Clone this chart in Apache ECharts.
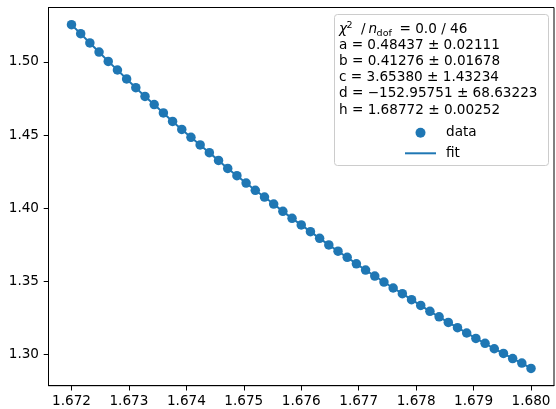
<!DOCTYPE html>
<html>
<head>
<meta charset="utf-8">
<script src="https://cdn.jsdelivr.net/npm/echarts@6/dist/echarts.min.js"></script>
<style>
html,body{margin:0;padding:0;background:#fff;}
#c{width:556px;height:409px;}
</style>
</head>
<body>
<div id="c"></div>
<script>
// ---- data ----
const xValues = [1.67200,1.67216,1.67232,1.67248,1.67264,1.67280,1.67296,1.67312,1.67328,1.67344,
1.67360,1.67376,1.67392,1.67408,1.67424,1.67440,1.67456,1.67472,1.67488,1.67504,
1.67520,1.67536,1.67552,1.67568,1.67584,1.67600,1.67616,1.67632,1.67648,1.67664,
1.67680,1.67696,1.67712,1.67728,1.67744,1.67760,1.67776,1.67792,1.67808,1.67824,
1.67840,1.67856,1.67872,1.67888,1.67904,1.67920,1.67936,1.67952,1.67968,1.67984,1.68000];
const yData = [1.5255,1.5194,1.5130,1.5068,1.5004,1.4945,1.4884,1.4824,1.4764,1.4708,
1.4651,1.4593,1.4538,1.4484,1.4432,1.4379,1.4326,1.4271,1.4221,1.4171,
1.4121,1.4075,1.4027,1.3977,1.3929,1.3884,1.3838,1.3792,1.3747,1.3704,
1.3662,1.3618,1.3575,1.3534,1.3493,1.3452,1.3413,1.3372,1.3333,1.3292,
1.3255,1.3216,1.3180,1.3144,1.3107,1.3073,1.3036,1.3004,1.2969,1.2938,1.2901];
const yFit = yData.slice();
const xTicks = [1.672,1.673,1.674,1.675,1.676,1.677,1.678,1.679,1.680];
const yTicks = [1.30,1.35,1.40,1.45,1.50];
const statLines = [
  'a = 0.48437 ± 0.02111',
  'b = 0.41276 ± 0.01678',
  'c = 3.65380 ± 1.43234',
  'd = −152.95751 ± 68.63223',
  'h = 1.68772 ± 0.00252'
];
const seriesNames = ['data','fit'];

// ---- chart ----
const C = '#1f77b4';
const FONT = 'DejaVu Sans';
const FS = 13.6;
const chart = echarts.init(document.getElementById('c'), null, {renderer:'canvas'});

const graphics = [
  {type:'rect', z:50, shape:{x:334.5, y:14.5, width:214, height:151, r:3},
   style:{fill:'rgba(255,255,255,0.8)', stroke:'#cccccc', lineWidth:1}},
  {type:'text', z:51, x:339, y:29.2, style:{text:'χ', font:'italic '+FS+'px '+FONT, fill:'#000', verticalAlign:'middle'}},
  {type:'text', z:51, x:346.5, y:25.8, style:{text:'2', font:'9.5px '+FONT, fill:'#000', verticalAlign:'middle'}},
  {type:'text', z:51, x:361.0, y:29.2, style:{text:'/', font:FS+'px '+FONT, fill:'#000', verticalAlign:'middle'}},
  {type:'text', z:51, x:368.5, y:29.2, style:{text:'n', font:'italic '+FS+'px '+FONT, fill:'#000', verticalAlign:'middle'}},
  {type:'text', z:51, x:376.6, y:33.4, style:{text:'dof', font:'9.5px '+FONT, fill:'#000', verticalAlign:'middle'}},
  {type:'text', z:51, x:399.5, y:29.2, style:{text:'= 0.0 / 46', font:FS+'px '+FONT, fill:'#000', verticalAlign:'middle'}}
];
statLines.forEach((t,k)=>{
  graphics.push({type:'text', z:51, x:339, y:45.2 + 16.25*k,
    style:{text:t, font:FS+'px '+FONT, fill:'#000', verticalAlign:'middle'}});
});

const option = {
  animation:false,
  backgroundColor:'#fff',
  grid:{left:48.5, right:2, top:7.5, bottom:23.3, show:true, borderColor:'#000', borderWidth:1,
        containLabel:false, outerBoundsMode:'none'},
  legend:{
    data:[{name:seriesNames[0], icon:'circle'},
          {name:seriesNames[1], itemStyle:{opacity:0, color:'rgba(0,0,0,0)', borderWidth:0}}],
    orient:'vertical', left:404, top:125.7, padding:0,
    itemWidth:31, itemHeight:10, itemGap:6.6, z:60,
    textStyle:{fontFamily:FONT, fontSize:FS, color:'#000', padding:[0,0,0,5]}
  },
  xAxis:{
    type:'value', min:1.6716, max:1.6804, scale:true,
    axisLine:{show:true, onZero:false, lineStyle:{color:'#000', width:1}},
    axisTick:{show:true, inside:false, length:4.8, lineStyle:{color:'#000', width:1}, customValues:xTicks},
    axisLabel:{show:true, margin:9, color:'#000', fontFamily:FONT, fontSize:FS, customValues:xTicks,
      formatter:v=>Number(v).toFixed(3)},
    splitLine:{show:false}
  },
  yAxis:{
    type:'value', min:1.2783, max:1.5373, scale:true,
    axisLine:{show:true, onZero:false, lineStyle:{color:'#000', width:1}},
    axisTick:{show:true, inside:false, length:4.8, lineStyle:{color:'#000', width:1}, customValues:yTicks},
    axisLabel:{show:true, margin:9.5, color:'#000', fontFamily:FONT, fontSize:FS, customValues:yTicks,
      formatter:v=>Number(v).toFixed(2)},
    splitLine:{show:false}
  },
  series:[
    {name:seriesNames[0], type:'scatter', symbol:'circle', symbolSize:9.5, z:3,
     itemStyle:{color:C, opacity:1},
     data:xValues.map((x,i)=>[x,yData[i]])},
    {name:seriesNames[1], type:'line', symbol:'none', showSymbol:false, z:2,
     lineStyle:{color:C, width:2}, itemStyle:{color:C},
     data:xValues.map((x,i)=>[x,yFit[i]])}
  ],
  graphic:graphics
};
chart.setOption(option);
</script>
</body>
</html>
